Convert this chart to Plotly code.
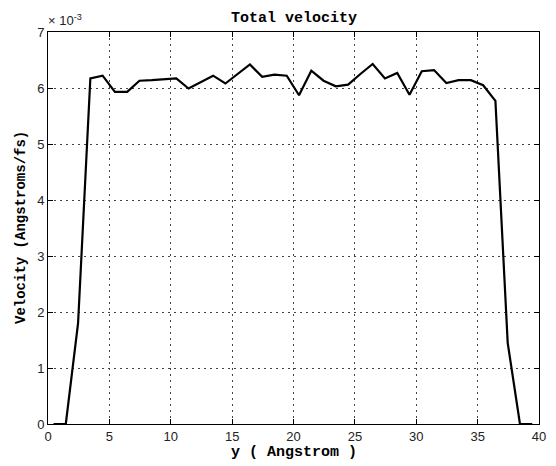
import plotly.graph_objects as go

# Data (velocity in units of 1e-3 Angstroms/fs)
y_position = [0.45, 1.45, 2.45, 3.45, 4.45, 5.45, 6.45, 7.45, 8.45, 9.45,
              10.45, 11.45, 12.45, 13.45, 14.45, 15.45, 16.45, 17.45, 18.45, 19.45,
              20.45, 21.45, 22.45, 23.45, 24.45, 25.45, 26.45, 27.45, 28.45, 29.45,
              30.45, 31.45, 32.45, 33.45, 34.45, 35.45, 36.45, 37.45, 38.45, 39.45]
velocity_e3 = [0.0, 0.0, 1.80, 6.17, 6.22, 5.93, 5.93, 6.13, 6.14, 6.15,
               6.17, 5.99, 6.10, 6.22, 6.08, 6.25, 6.42, 6.20, 6.24, 6.22,
               5.87, 6.31, 6.13, 6.03, 6.06, 6.25, 6.43, 6.17, 6.27, 5.88,
               6.30, 6.32, 6.09, 6.14, 6.14, 6.05, 5.77, 1.45, 0.0, 0.0]
x_ticks = [0, 5, 10, 15, 20, 25, 30, 35, 40]
y_ticks = [0, 1, 2, 3, 4, 5, 6, 7]

fig = go.Figure()
fig.add_trace(go.Scatter(x=y_position, y=velocity_e3, mode="lines",
                         line=dict(color="black", width=2.2), showlegend=False))

axis_common = dict(showline=True, linecolor="black", linewidth=1, mirror="ticks",
                   ticks="inside", ticklen=5, tickcolor="black",
                   showgrid=True, gridcolor="#444", gridwidth=1, griddash="2px,4px",
                   zeroline=False,
                   tickfont=dict(family="Liberation Sans", size=13, color="#222"))

fig.update_xaxes(range=[0, 40], tickvals=x_ticks, ticktext=[str(v) for v in x_ticks],
                 **axis_common)
fig.update_yaxes(range=[0, 7], tickvals=y_ticks, ticktext=[str(v) for v in y_ticks],
                 **axis_common)

mono_bold = dict(family="Liberation Mono", size=15, color="black")
fig.update_layout(
    width=548, height=458,
    margin=dict(l=40, r=10, t=24, b=42),
    paper_bgcolor="white", plot_bgcolor="white",
    annotations=[
        dict(text="<b>Total velocity</b>", x=0.5, y=1, xref="paper", yref="paper",
             xanchor="center", yanchor="bottom", yshift=3, showarrow=False, font=mono_bold),
        dict(text="<b>y ( Angstrom )</b>", x=0.5, y=0, xref="paper", yref="paper",
             xanchor="center", yanchor="top", yshift=-18, showarrow=False, font=mono_bold),
        dict(text="<b>Velocity (Angstroms/fs)</b>", x=0, y=0.5, xref="paper", yref="paper",
             xanchor="right", yanchor="middle", xshift=-17, textangle=-90,
             showarrow=False, font=dict(family="Liberation Mono", size=14, color="black")),
        dict(text="× 10<sup>-3</sup>", x=0, y=1, xref="paper", yref="paper",
             xanchor="left", yanchor="bottom", xshift=-2, yshift=2, showarrow=False,
             font=dict(family="Liberation Sans", size=13, color="#222")),
    ],
)

fig.write_html("out.html")
